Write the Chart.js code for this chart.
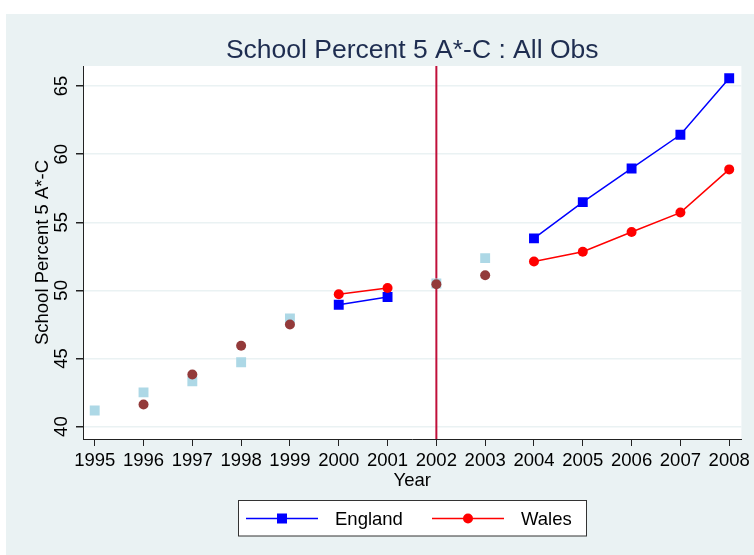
<!DOCTYPE html>
<html>
<head>
<meta charset="utf-8">
<script src="https://cdn.jsdelivr.net/npm/chart.js@4"></script>
<style>
  html, body { margin: 0; padding: 0; background: #fff; }
  canvas { display: block; }
</style>
</head>
<body>
<canvas id="chart" width="754" height="555"></canvas>
<script>
// data
const years = [1995, 1996, 1997, 1998, 1999, 2000, 2001, 2002, 2003, 2004, 2005, 2006, 2007, 2008];
const england = [null, null, null, null, null, 48.95, 49.51, null, null, 53.82, 56.48, 58.95, 61.42, 65.57];
const wales = [null, null, null, null, null, 49.71, 50.18, null, null, 52.12, 52.83, 54.28, 55.71, 58.88];
const englandOther = [41.18, 42.51, 43.32, 44.72, 47.94, null, null, 50.50, 52.37, null, null, null, null, null];
const walesOther = [null, 41.62, 43.83, 45.93, 47.50, null, null, 50.45, 51.11, null, null, null, null, null];
const yTicks = [40, 45, 50, 55, 60, 65];
const breakYear = 2002;

const FONT = "'Liberation Sans', Arial, sans-serif";
const BG = '#eaf2f3';

const pts = arr => years.map((yr, i) => ({ x: yr, y: arr[i] }));

const backdrop = {
    id: 'backdrop',
    beforeDraw(chart) {
        const { ctx, chartArea: a } = chart;
        ctx.save();
        ctx.fillStyle = '#fff';
        ctx.fillRect(0, 0, chart.width, chart.height);
        ctx.fillStyle = BG;
        ctx.fillRect(6, 14, chart.width - 6, chart.height - 14);
        ctx.fillStyle = '#fff';
        ctx.fillRect(a.left, a.top, a.right - a.left, a.bottom - a.top);
        ctx.restore();
    }
};

const breakLine = {
    id: 'breakLine',
    beforeDatasetsDraw(chart) {
        const { ctx, chartArea: a } = chart;
        const x = chart.scales.x.getPixelForValue(breakYear);
        ctx.save();
        ctx.strokeStyle = '#c0103a';
        ctx.lineWidth = 2;
        ctx.beginPath();
        ctx.moveTo(x, a.top);
        ctx.lineTo(x, a.bottom);
        ctx.stroke();
        ctx.restore();
    }
};

const texts = {
    id: 'texts',
    afterDraw(chart) {
        const { ctx, chartArea: a } = chart;
        const ys = chart.scales.y;
        const cx = (a.left + a.right) / 2;
        ctx.save();

        // title
        ctx.fillStyle = '#1e2d50';
        ctx.font = '26.5px ' + FONT;
        ctx.textAlign = 'center';
        ctx.textBaseline = 'alphabetic';
        ctx.fillText('School Percent 5 A*-C : All Obs', cx, 58);

        // y tick labels, rotated
        ctx.fillStyle = '#000';
        ctx.font = '18.5px ' + FONT;
        yTicks.forEach(v => {
            ctx.save();
            ctx.translate(67, ys.getPixelForValue(v));
            ctx.rotate(-Math.PI / 2);
            ctx.fillText(String(v), 0, 0);
            ctx.restore();
        });

        // y title
        ctx.save();
        ctx.translate(48, (a.top + a.bottom) / 2);
        ctx.rotate(-Math.PI / 2);
        ctx.fillText('School Percent 5 A*-C', 0, 0);
        ctx.restore();

        // x title
        ctx.fillText('Year', cx, 486);

        // legend
        ctx.fillStyle = '#fff';
        ctx.fillRect(238.5, 500.5, 348, 35.5);
        ctx.strokeStyle = '#333';
        ctx.lineWidth = 1;
        ctx.strokeRect(238.5, 500.5, 348, 35.5);
        const ly = 518.5;
        const items = [
            { ds: chart.data.datasets[0], x0: 246, x1: 318, tx: 335 },
            { ds: chart.data.datasets[1], x0: 432, x1: 504, tx: 521 }
        ];
        items.forEach(it => {
            ctx.strokeStyle = it.ds.borderColor;
            ctx.lineWidth = 1.5;
            ctx.beginPath();
            ctx.moveTo(it.x0, ly);
            ctx.lineTo(it.x1, ly);
            ctx.stroke();
            const mx = (it.x0 + it.x1) / 2;
            ctx.fillStyle = it.ds.pointBackgroundColor;
            if (it.ds.pointStyle === 'rect') {
                ctx.fillRect(mx - 5, ly - 5, 10, 10);
            } else {
                ctx.beginPath();
                ctx.arc(mx, ly, 5, 0, Math.PI * 2);
                ctx.fill();
            }
            ctx.fillStyle = '#000';
            ctx.textAlign = 'left';
            ctx.fillText(it.ds.label, it.tx, 525);
        });
        ctx.restore();
    }
};

new Chart(document.getElementById('chart'), {
    type: 'line',
    data: {
        datasets: [
            {
                label: 'England',
                data: pts(england),
                borderColor: '#0000ff',
                backgroundColor: '#0000ff',
                pointBackgroundColor: '#0000ff',
                pointBorderWidth: 0,
                borderWidth: 1.5,
                pointStyle: 'rect',
                pointRadius: 7,
                spanGaps: false,
                order: 1
            },
            {
                label: 'Wales',
                data: pts(wales),
                borderColor: '#ff0000',
                backgroundColor: '#ff0000',
                pointBackgroundColor: '#ff0000',
                pointBorderWidth: 0,
                borderWidth: 1.5,
                pointStyle: 'circle',
                pointRadius: 5,
                spanGaps: false,
                order: 0
            },
            {
                label: 'England (other years)',
                data: pts(englandOther),
                showLine: false,
                pointStyle: 'rect',
                pointRadius: 7,
                pointBorderWidth: 0,
                pointBackgroundColor: '#add8e6',
                backgroundColor: '#add8e6',
                order: 3
            },
            {
                label: 'Wales (other years)',
                data: pts(walesOther),
                showLine: false,
                pointStyle: 'circle',
                pointRadius: 5,
                pointBorderWidth: 0,
                pointBackgroundColor: '#933a3a',
                backgroundColor: '#933a3a',
                order: 2
            }
        ]
    },
    options: {
        responsive: false,
        animation: false,
        layout: { padding: { top: 66, right: 12, left: 0, bottom: 0 } },
        plugins: {
            legend: { display: false },
            title: { display: false },
            tooltip: { enabled: false }
        },
        scales: {
            x: {
                type: 'linear',
                min: 1994.76,
                max: 2008.25,
                afterBuildTicks: s => { s.ticks = years.map(v => ({ value: v })); },
                afterFit: s => { s.height = 116; },
                ticks: {
                    color: '#000',
                    font: { family: FONT, size: 18.5 },
                    padding: 4,
                    maxRotation: 0,
                    autoSkip: false,
                    callback: v => String(v)
                },
                grid: {
                    drawOnChartArea: false,
                    drawTicks: true,
                    tickLength: 7,
                    tickColor: '#222'
                },
                border: { color: '#222', width: 1 }
            },
            y: {
                min: 39.09,
                max: 66.47,
                afterBuildTicks: s => { s.ticks = yTicks.map(v => ({ value: v })); },
                afterFit: s => { s.width = 83; },
                ticks: { display: false },
                grid: {
                    color: BG,
                    lineWidth: 1.5,
                    drawTicks: true,
                    tickLength: 7,
                    tickColor: '#222'
                },
                border: { color: '#222', width: 1 }
            }
        }
    },
    plugins: [backdrop, breakLine, texts]
});
</script>
</body>
</html>
